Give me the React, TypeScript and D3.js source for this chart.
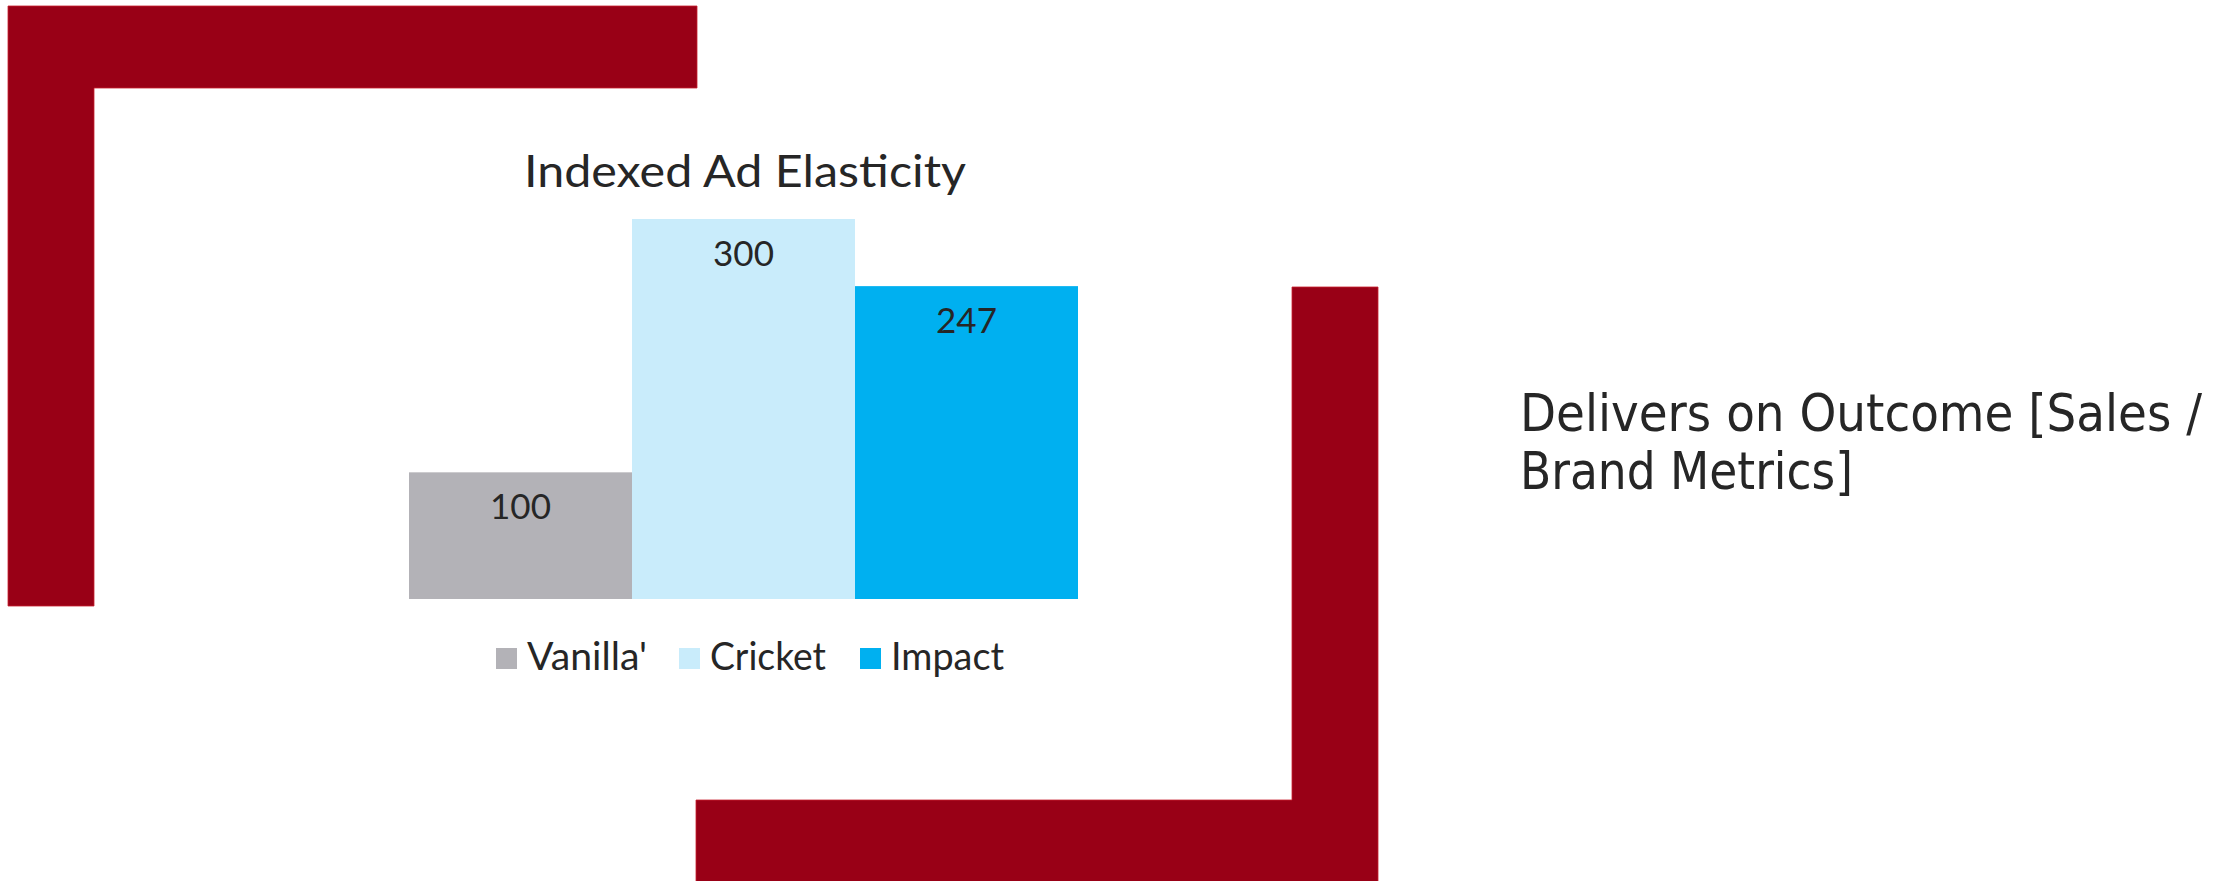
import React, { useEffect, useRef } from "react";
import * as d3 from "d3";

const categories = ["Vanilla'", "Cricket", "Impact"];
const values = [100, 300, 247];
const colors = ["#B3B2B7", "#C9ECFB", "#00B0F0"];
const chartTitle = "Indexed Ad Elasticity";
const sideText = ["Delivers on Outcome [Sales /", "Brand Metrics]"];

const W = 2234;
const H = 881;
const RED = "#990016";

export default function App() {
  const ref = useRef<SVGSVGElement | null>(null);

  useEffect(() => {
    document.body.style.margin = "0";
    const svg = d3.select(ref.current);
    svg.selectAll("*").remove();

    // decorative red brackets
    const deco = svg.append("g").attr("fill", RED).attr("stroke", "#c8202f").attr("stroke-width", 0.8);
    deco.append("path").attr("d", "M8,6 H697 V88 H94 V606 H8 Z");
    deco.append("path").attr("d", "M1292,287 H1378 V882 H696 V800 H1292 Z");

    // bar chart
    const x = d3.scaleBand<string>().domain(categories).range([409, 1078]).padding(0);
    const y = d3.scaleLinear().domain([0, 300]).range([599, 219]);

    const g = svg.append("g");
    g.selectAll("rect.bar")
      .data(values)
      .join("rect")
      .attr("class", "bar")
      .attr("x", (_, i) => x(categories[i])!)
      .attr("y", (d) => y(d))
      .attr("width", x.bandwidth())
      .attr("height", (d) => y(0) - y(d))
      .attr("fill", (_, i) => colors[i]);

    g.selectAll("text.lbl")
      .data(values)
      .join("text")
      .attr("class", "lbl")
      .attr("x", (_, i) => x(categories[i])! + x.bandwidth() / 2)
      .attr("y", (d) => y(d) + 47)
      .attr("text-anchor", "middle")
      .attr("font-family", "Lato, sans-serif")
      .attr("font-size", 35)
      .attr("fill", "#262626")
      .text((d) => String(d));

    svg.append("text")
      .attr("x", 745)
      .attr("y", 187)
      .attr("text-anchor", "middle")
      .attr("font-family", "Lato, sans-serif")
      .attr("font-size", 45)
      .attr("fill", "#262626")
      .attr("textLength", 442)
      .attr("lengthAdjust", "spacingAndGlyphs")
      .text(chartTitle);

    // legend
    const legendX = [496, 679, 860];
    const legendW = [120, 116, 113];
    const lg = svg.append("g");
    categories.forEach((c, i) => {
      lg.append("rect")
        .attr("x", legendX[i])
        .attr("y", 648)
        .attr("width", 21)
        .attr("height", 21)
        .attr("fill", colors[i]);
      lg.append("text")
        .attr("x", legendX[i] + 31)
        .attr("y", 670)
        .attr("font-family", "Lato, sans-serif")
        .attr("font-size", 38)
        .attr("fill", "#262626")
        .attr("textLength", legendW[i])
        .attr("lengthAdjust", "spacingAndGlyphs")
        .text(c);
    });

    // side text (one text element, two lines)
    const sideW = [682, 333];
    const st = svg.append("text")
      .attr("font-family", "'DejaVu Sans Condensed', 'DejaVu Sans', sans-serif")
      .style("font-stretch", "condensed")
      .attr("font-size", 52)
      .attr("fill", "#262626");
    sideText.forEach((t, i) => {
      st.append("tspan")
        .attr("x", 1520)
        .attr("y", 431 + i * 57.5)
        .attr("textLength", sideW[i])
        .attr("lengthAdjust", "spacingAndGlyphs")
        .text(t);
    });
  }, []);

  return (
    <svg
      ref={ref}
      width={W}
      height={H}
      style={{ position: "absolute", left: 0, top: 0, display: "block", background: "#fff" }}
    />
  );
}
